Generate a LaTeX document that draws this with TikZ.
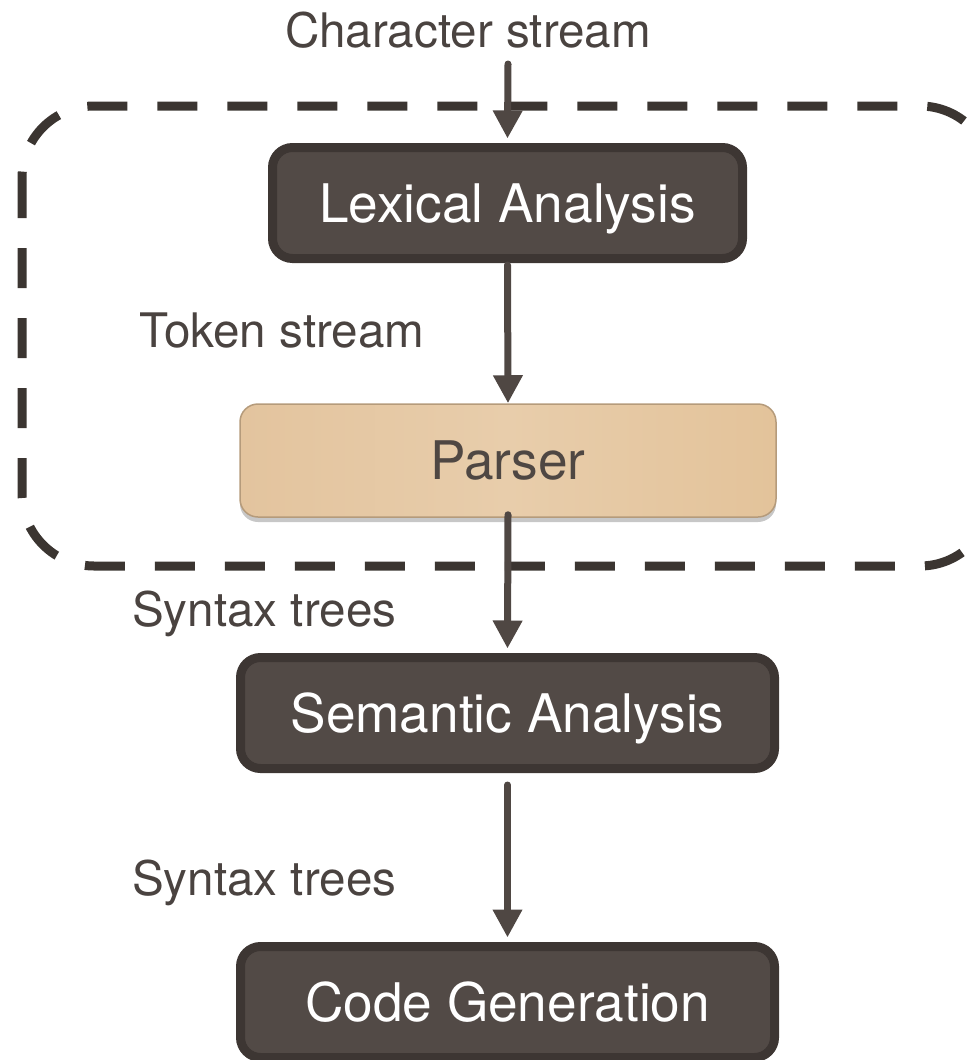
\documentclass[tikz,border=0pt]{standalone}
\usepackage{fontspec}
\setmainfont{TeX Gyre Heros}
\usetikzlibrary{arrows.meta,shadows}
\definecolor{boxfill}{HTML}{524A46}
\definecolor{boxline}{HTML}{3D3633}
\definecolor{arrowcol}{HTML}{4F4743}
\definecolor{dashcol}{HTML}{3B3531}
\definecolor{labelcol}{HTML}{4A4340}
\definecolor{tanL}{HTML}{E3C49E}
\definecolor{tanM}{HTML}{E8CDAB}
\definecolor{tanR}{HTML}{E3C39A}
\definecolor{tanline}{HTML}{B59B7B}
\tikzset{
  darkbox/.style={rectangle, rounded corners=20pt, draw=boxline, line width=9pt,
    fill=boxfill, text=white, font=\fontsize{53.2}{60}\selectfont,
    minimum height=111pt, inner sep=0pt, text depth=0pt},
  tanbox/.style={rectangle, rounded corners=18pt, draw=tanline, line width=1.5pt,
    left color=tanL, right color=tanR, middle color=tanM, text=arrowcol,
    font=\fontsize{53.2}{60}\selectfont, minimum width=536pt, minimum height=113pt,
    inner sep=0pt, text depth=0pt,
    drop shadow={shadow xshift=0pt, shadow yshift=-5pt, opacity=0.22, fill=black}},
  sidelabel/.style={text=labelcol, font=\fontsize{47.6}{54}\selectfont, inner sep=0pt, text depth=0pt},
  flow/.style={draw=arrowcol, line width=7pt, line cap=round,
    -{Triangle[length=28pt,width=28pt]}},
  grouping/.style={draw=dashcol, line width=9pt, dash pattern=on 40pt off 30pt, rounded corners=72pt}
}
\begin{document}
\begin{tikzpicture}[x=1pt,y=-1pt]
\useasboundingbox (0,0) rectangle (974,1060);
\begin{scope}
\clip (0,0) rectangle (974,1060);
\draw[grouping] (22,106) rectangle (992,566);
\end{scope}
\node[sidelabel] (cs) at (468,30) {Character stream};
\coordinate (csend) at (508,64);
\node[darkbox, minimum width=470pt] (lex) at (507.5,203) {Lexical Analysis};
\node[sidelabel, anchor=west] (tok) at (139,330) {Token stream};
\node[tanbox] (par) at (508,460.5) {Parser};
\node[sidelabel, anchor=west] (syn1) at (132,609) {Syntax trees};
\node[darkbox, minimum width=534pt] (sem) at (507.5,713) {Semantic Analysis};
\node[sidelabel, anchor=west] (syn2) at (132,878) {Syntax trees};
\node[darkbox, minimum width=534pt] (code) at (507.5,1002) {Code Generation};
\draw[flow] (csend) -- ([yshift=4.5pt]lex.north);
\draw[flow] ([yshift=-2pt]lex.south) -- (par.north);
\draw[flow] ([yshift=3pt]par.south) -- ([yshift=4.5pt]sem.north);
\draw[flow] ([yshift=-12pt]sem.south) -- ([yshift=4.5pt]code.north);
\end{tikzpicture}
\end{document}
